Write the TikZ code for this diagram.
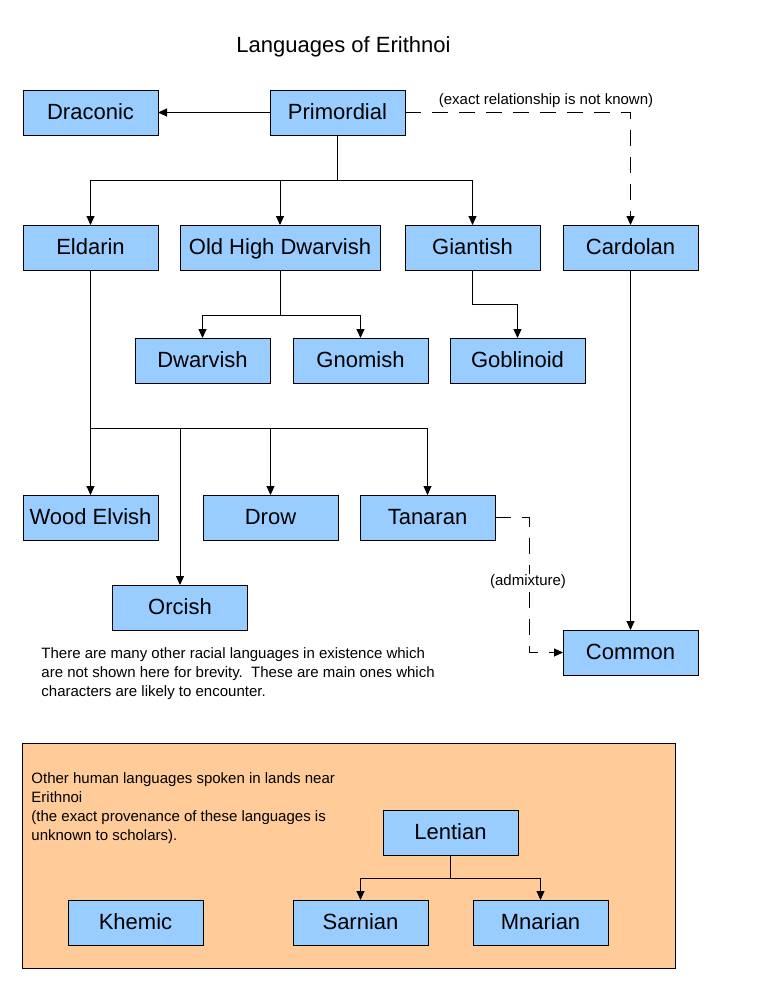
\documentclass[tikz,border=0pt]{standalone}
\usepackage{fontspec}
\setmainfont{Liberation Sans}
\usetikzlibrary{arrows.meta, positioning, backgrounds}

\definecolor{langblue}{HTML}{99CCFF}
\definecolor{humanorange}{HTML}{FFCC99}

\begin{document}
\begin{tikzpicture}[x=1pt,y=-1pt,node distance=22pt,
		>={Triangle[length=9pt,width=8pt]},line width=0.9pt]

		\tikzset{lang/.style={rectangle,draw=black,fill=langblue,minimum width=135pt,
			minimum height=45pt,inner sep=0pt,outer sep=0pt,
			text height=16.5pt,text depth=3pt,font=\fontsize{22}{26}\selectfont}}
		\tikzset{wide lang/.style={lang,minimum width=200pt}}
		\tikzset{note/.style={align=left,inner sep=0pt,anchor=north west,
			font=\fontsize{15}{19}\selectfont}}
		\tikzset{remark/.style={inner sep=1pt,font=\fontsize{15}{19}\selectfont}}
		\tikzset{link/.style={draw=black}}
		\tikzset{post/.style={link,->}}
		\tikzset{guess/.style={post,dash pattern=on 16pt off 11pt}}

		\useasboundingbox (0,0) rectangle (765,990);

		% panel of the other human languages
		\node [rectangle,draw=black,fill=humanorange,minimum width=653pt,
			minimum height=225pt,inner sep=0pt] (human) at (348.5,855.5) {};

		\node [font=\fontsize{22}{26}\selectfont] (title) at (343.5,47) {Languages of Erithnoi};

		\node [lang] (Prim) at (337.5,112.5) {Primordial};
		\node [lang, left=112pt of Prim] (Drac) {Draconic};
		\node [lang, below=90pt of Drac] (Eld) {Eldarin};
		\node [wide lang, right=22pt of Eld] (OHD) {Old High Dwarvish};
		\node [lang, right=25pt of OHD] (Giant) {Giantish};
		\node [lang, right=23pt of Giant] (Card) {Cardolan};
		\node [lang, below=68pt of OHD, xshift=-77.5pt] (Dwarf) {Dwarvish};
		\node [lang, right=23pt of Dwarf] (Gnome) {Gnomish};
		\node [lang, right=22pt of Gnome] (Gob) {Goblinoid};
		\node [lang, below=225pt of Eld] (Wood) {Wood Elvish};
		\node [lang, right=45pt of Wood] (Drow) {Drow};
		\node [lang, right=22pt of Drow] (Tan) {Tanaran};
		\node [lang, below=45pt of Wood, xshift=89.5pt] (Orc) {Orcish};
		\node [lang, below=360pt of Card] (Common) {Common};

		\node [lang] (Lent) at (450.5,832.5) {Lentian};
		\node [lang, below=45pt of Lent, xshift=-90pt] (Sarn) {Sarnian};
		\node [lang, right=45pt of Sarn] (Mnar) {Mnarian};
		\node [lang, left=90pt of Sarn] (Khem) {Khemic};

		\node [note] (others) at (41,647) {There are many other racial languages in existence which\\
			are not shown here for brevity.\ \ These are main ones which\\
			characters are likely to encounter.};
		\node [note] (humannote) at (31,772) {Other human languages spoken in lands near\\
			Erithnoi\\
			(the exact provenance of these languages is\\
			unknown to scholars).};

		% family trees
		\draw [post] (Prim) -- (Drac);
		\coordinate (primfork) at ([yshift=-45pt]Prim.south);
		\draw [link] (Prim.south) -- (primfork);
		\foreach \n in {Eld,OHD,Giant}
			\draw [post] (primfork) -| (\n.north);

		\coordinate (dwarffork) at ([yshift=-45pt]OHD.south);
		\draw [link] (OHD.south) -- (dwarffork);
		\foreach \n in {Dwarf,Gnome}
			\draw [post] (dwarffork) -| (\n.north);

		\draw [post] (Giant.south) -- ++(0,34) -| (Gob.north);

		\coordinate (elffork) at ([yshift=-158pt]Eld.south);
		\draw [link] (Eld.south) -- (elffork);
		\foreach \n in {Wood,Orc,Drow,Tan}
			\draw [post] (elffork) -| (\n.north);

		\draw [post] (Card) -- (Common);

		\coordinate (lentfork) at ([yshift=-23pt]Lent.south);
		\draw [link] (Lent.south) -- (lentfork);
		\foreach \n in {Sarn,Mnar}
			\draw [post] (lentfork) -| (\n.north);

		% uncertain relations
		\draw [guess] (Prim.east) -| (Card.north);
		\node [remark] (unknown) at (546,101) {(exact relationship is not known)};
		\draw [guess] (Tan.east) -- ++(34,0) |- (Common.west);
		\node [remark, fill=white] (admix) at (528,582) {(admixture)};
	\end{tikzpicture}
\end{document}
